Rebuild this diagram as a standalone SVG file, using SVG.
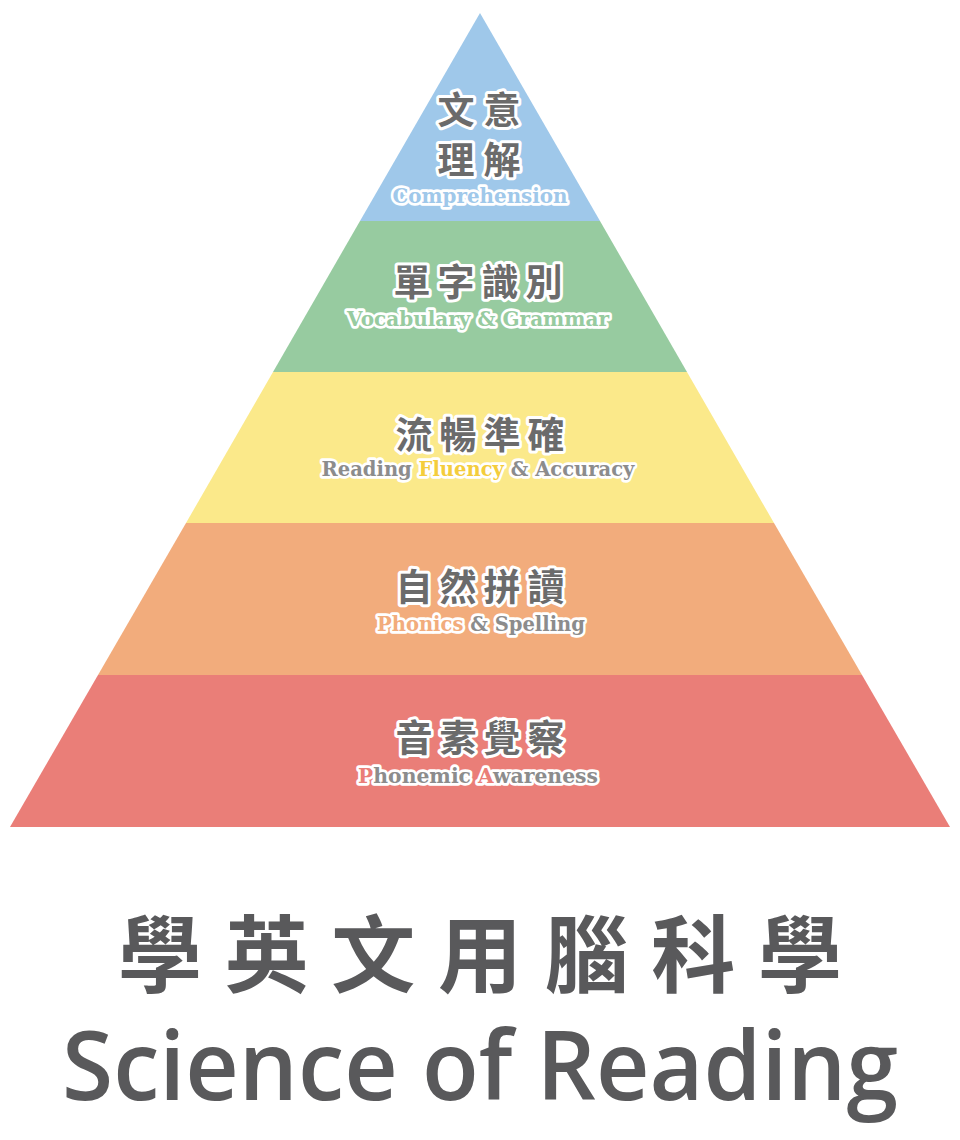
<svg xmlns="http://www.w3.org/2000/svg" width="960" height="1140" viewBox="0 0 960 1140">
<style>
.cjk{font-family:"Noto Sans CJK TC","Noto Sans CJK SC",sans-serif;font-weight:700;font-size:37px;fill:#6b6b6b;stroke:#fff;stroke-width:6px;stroke-linejoin:round;paint-order:stroke;text-anchor:middle;dominant-baseline:central}
.en{font-family:"DejaVu Serif","Liberation Serif",serif;font-weight:900;font-size:21px;fill:#8c8c8c;stroke:#fff;stroke-width:5.5px;stroke-linejoin:round;paint-order:stroke;text-anchor:middle}
.title{font-family:"Noto Sans CJK TC","Noto Sans CJK SC",sans-serif;font-weight:700;font-size:84px;fill:#59595b;text-anchor:middle;dominant-baseline:central}
.sub{font-family:"Open Sans","Noto Sans",sans-serif;font-weight:600;font-size:96px;fill:#59595b;text-anchor:middle}
</style>
<rect width="960" height="1140" fill="#fff"/>
<g id="layer-comprehension">
<polygon points="480,13 600,221 360,221" fill="#9fc8ea"/>
<text class="cjk" x="456 502" y="108">文意</text>
<text class="cjk" x="456 502" y="158">理解</text>
<text class="en" x="480" y="203" textLength="175" lengthAdjust="spacingAndGlyphs" style="fill:#9fc8ea">Comprehension</text>
</g>
<g id="layer-vocabulary">
<polygon points="360,221 600,221 687,372 273,372" fill="#97cba0"/>
<text class="cjk" x="412 456 500 544" y="280">單字識別</text>
<text class="en" x="478" y="326" textLength="262" lengthAdjust="spacingAndGlyphs" style="fill:#97cba0">Vocabulary &amp; Grammar</text>
</g>
<g id="layer-fluency">
<polygon points="273,372 687,372 774,523 186,523" fill="#fbe98a"/>
<text class="cjk" x="414 458 502 546" y="433">流暢準確</text>
<text class="en" x="478" y="476" textLength="313" lengthAdjust="spacingAndGlyphs">Reading <tspan style="fill:#f4cd3c">Fluency</tspan> &amp; Accuracy</text>
</g>
<g id="layer-phonics">
<polygon points="186,523 774,523 862,675 98,675" fill="#f2ac7c"/>
<text class="cjk" x="414 458 502 546" y="585">自然拼讀</text>
<text class="en" x="481" y="631" textLength="208" lengthAdjust="spacingAndGlyphs"><tspan style="fill:#f2ac7c">Phonics</tspan> &amp; Spelling</text>
</g>
<g id="layer-phonemic">
<polygon points="98,675 862,675 950,827 10,827" fill="#ea7e78"/>
<text class="cjk" x="414 458 502 546" y="736">音素覺察</text>
<text class="en" x="478" y="783" textLength="240" lengthAdjust="spacingAndGlyphs"><tspan style="fill:#ea7e78">P</tspan>honemic <tspan style="fill:#ea7e78">A</tspan>wareness</text>
</g>
<g id="connectors"></g>
<g id="title">
<text class="title" x="160 266.7 373.3 480 586.7 693.3 800" y="949">學英文用腦科學</text>
<text class="sub" x="480" y="1100" textLength="836" lengthAdjust="spacingAndGlyphs">Science of Reading</text>
</g>
</svg>
